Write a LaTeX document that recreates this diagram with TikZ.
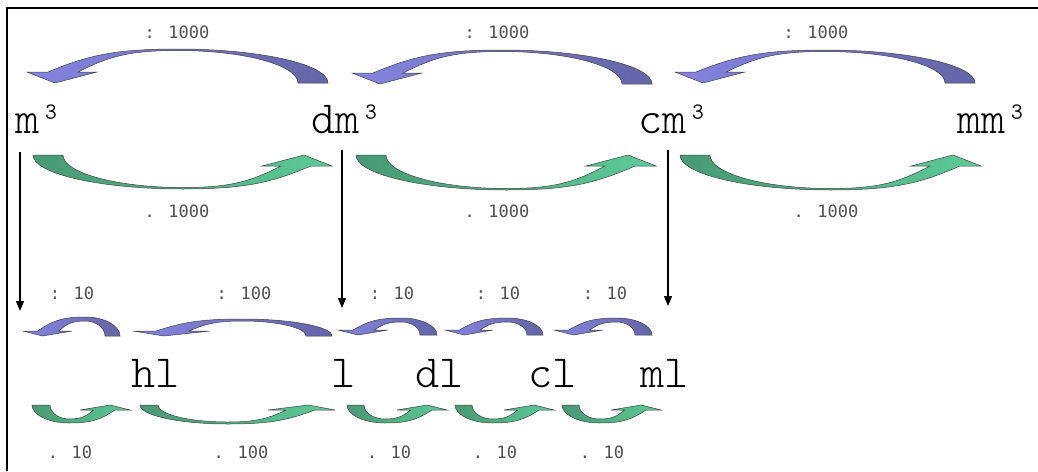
\documentclass[tikz,border=0pt]{standalone}
\usepackage{fontspec}
\newfontfamily\lblfont{DejaVu Sans Mono}
\newfontfamily\unitfont{Latin Modern Mono Light}
\usetikzlibrary{arrows.meta}
\definecolor{bl}{HTML}{8585E2}
\definecolor{bd}{HTML}{6464A8}
\definecolor{gd}{HTML}{479A74}
\definecolor{gl}{HTML}{5CCB98}
\definecolor{lab}{HTML}{505050}
\tikzset{
  bshade/.style={left color=bl, right color=bd, draw=black!75, line width=0.5pt},
  gshade/.style={left color=gd, right color=gl, draw=black!75, line width=0.5pt},
  carrow/.style={bshade},
  unit/.style={inner sep=0pt, anchor=base west, font=\fontsize{46}{50}\selectfont\unitfont},
  lbl/.style={inner sep=0pt, text=lab, font=\fontsize{17}{20}\selectfont\lblfont},
  down/.style={line width=1.2pt, -{Triangle[width=8pt,length=10pt]}}
}
% #1 L, #2 R, #3 T, #4 B, #5 head width, #6 tail width, #7 peak pos, #8 head height, #9 top thickness
\newcommand\carrow[9]{%
 \pgfmathsetmacro\cMx{#1+#7*(#2-#1)}%
 \pgfmathsetmacro\cYb{#4-#8}%
 \pgfmathsetmacro\cAo{#1+0.3*#5}%
 \pgfmathsetmacro\cAi{#1+0.73*#5}%
 \pgfmathsetmacro\cTi{#3+#9}%
 \pgfmathsetmacro\cRi{#2-#6}%
 \shade[carrow] (#1,\cYb) -- (\cAo,\cYb)
   .. controls ({\cAo+0.3*(\cMx-\cAo)},{#3+0.3*(\cYb-#3)}) and ({\cMx-0.5*(\cMx-\cAo)},#3) .. (\cMx,#3)
   .. controls ({\cMx+0.55*(#2-\cMx)},#3) and (#2,{#3+0.45*(#4-#3)}) .. (#2,#4)
   -- (\cRi,#4)
   .. controls (\cRi,{\cTi+0.45*(#4-\cTi)}) and ({\cMx+0.55*(\cRi-\cMx)},\cTi) .. (\cMx,\cTi)
   .. controls ({\cMx-0.5*(\cMx-\cAi)},\cTi) and ({\cAi+0.3*(\cMx-\cAi)},{\cTi+0.3*(\cYb-\cTi)}) .. (\cAi,\cYb)
   -- ({#1+#5},\cYb) -- ({#1+0.4*#5},#4) -- cycle;
}
\newcommand\garrow[9]{%
 \begin{scope}[rotate around={180:({(#1+#2)/2},{(#3+#4)/2})}, carrow/.style={gshade}]
 \carrow{#1}{#2}{#3}{#4}{#5}{#6}{#7}{#8}{#9}
 \end{scope}}
\begin{document}
\begin{tikzpicture}[x=1pt,y=-1pt]
\useasboundingbox (0,0) rectangle (1038,471);
\fill[white] (0,0) rectangle (1038,471);
\draw[line width=2pt] (7,471) -- (7,8) -- (1038,8);

% big blue arrows
\carrow{27}{328}{49}{83}{70}{30}{0.5}{11}{1.5}
\carrow{352}{652}{50}{84}{70}{30}{0.5}{11}{1.5}
\carrow{675}{975}{50}{83}{70}{30}{0.5}{11}{1.5}
% big green arrows
\garrow{33}{332}{155}{189}{70}{30}{0.5}{11}{1.5}
\garrow{356}{656}{155}{190}{70}{30}{0.5}{11}{1.5}
\garrow{680}{981}{155}{190}{70}{30}{0.5}{11}{1.5}
% small blue arrows
\carrow{23}{120}{317}{336}{49}{15}{0.64}{5}{4}
\carrow{133}{332}{319}{336}{77}{26}{0.55}{5}{2}
\carrow{338}{437}{318}{335}{50}{17}{0.64}{5}{4}
\carrow{445}{543}{318}{335}{48}{16}{0.64}{5}{4}
\carrow{554}{652}{318}{335}{49}{17}{0.64}{5}{4}
% small green arrows
\garrow{32}{130}{405}{423}{50}{18}{0.62}{5}{4}
\garrow{140}{335}{405}{424}{67}{18}{0.55}{5}{2}
\garrow{347}{447}{405}{423}{50}{17}{0.62}{5}{4}
\garrow{455}{554}{405}{423}{50}{17}{0.62}{5}{4}
\garrow{562}{661}{405}{423}{50}{17}{0.62}{5}{4}

% units
\node[unit] (m3) at (15,133) {m³};
\node[unit] (dm3) at (311,133) {dm³};
\node[unit] (cm3) at (638,133) {cm³};
\node[unit] (mm3) at (957,133) {mm³};
\node[unit] (hl) at (131,387) {hl};
\node[unit] (l) at (331,387) {l};
\node[unit] (dl) at (415,387) {dl};
\node[unit] (cl) at (528,387) {cl};
\node[unit] (ml) at (640,387) {ml};

% labels
\node[lbl] (t1) at (177,32) {: 1000};
\node[lbl] (t2) at (497,32) {: 1000};
\node[lbl] (t3) at (816,32) {: 1000};
\node[lbl] (b1) at (177,211) {. 1000};
\node[lbl] (b2) at (497,211) {. 1000};
\node[lbl] (b3) at (826,211) {. 1000};
\node[lbl] (s1) at (72,293) {: 10};
\node[lbl] (s2) at (244,293) {: 100};
\node[lbl] (s3) at (392,293) {: 10};
\node[lbl] (s4) at (498,293) {: 10};
\node[lbl] (s5) at (605,293) {: 10};
\node[lbl] (p1) at (70,452) {. 10};
\node[lbl] (p2) at (241,452) {. 100};
\node[lbl] (p3) at (389,452) {. 10};
\node[lbl] (p4) at (495,452) {. 10};
\node[lbl] (p5) at (602,452) {. 10};

% vertical arrows
\coordinate (v1a) at (20,152);
\coordinate (v1b) at (20,311);
\coordinate (v2a) at (342,150);
\coordinate (v2b) at (342,308);
\coordinate (v3a) at (668,150);
\coordinate (v3b) at (668,306);
\draw[down] (v1a) -- (v1b);
\draw[down] (v2a) -- (v2b);
\draw[down] (v3a) -- (v3b);
\end{tikzpicture}
\end{document}
